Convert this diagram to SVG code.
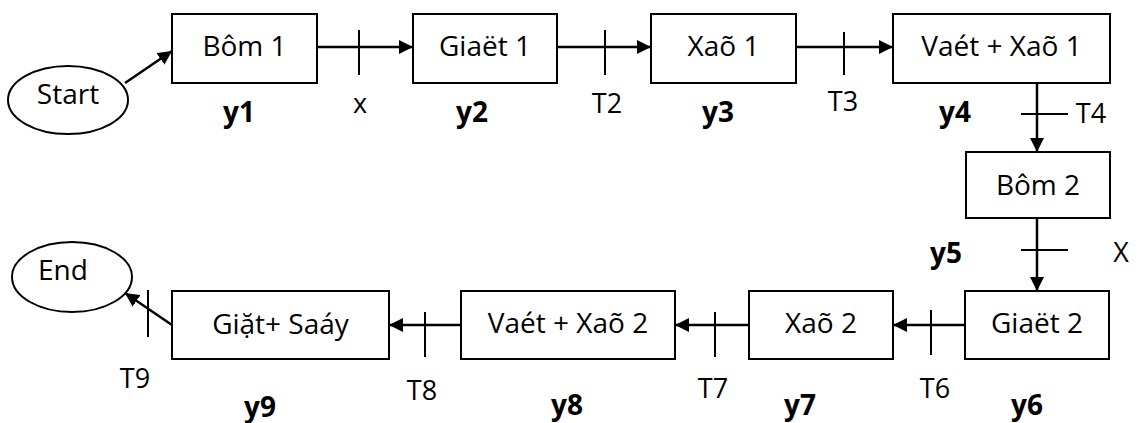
<svg xmlns="http://www.w3.org/2000/svg" width="1140" height="423" viewBox="0 0 1140 423">
  <defs>
    <marker id="arrow" markerUnits="userSpaceOnUse" markerWidth="16" markerHeight="14" refX="14" refY="7" orient="auto">
      <path d="M0,0 L14,7 L0,14 Z" fill="#000"/>
    </marker>
    <style>
      .box { fill: #fff; stroke: #000; stroke-width: 2; }
      .oval { fill: #fff; stroke: #000; stroke-width: 2; }
      .lbl { font-family: "Open Sans", "Liberation Sans", sans-serif; font-size: 28px; fill: #000; text-anchor: middle; }
      .step { font-family: "Open Sans", "Liberation Sans", sans-serif; font-size: 28px; font-weight: bold; fill: #000; text-anchor: middle; }
      .cond { font-family: "Open Sans", "Liberation Sans", sans-serif; font-size: 27px; fill: #000; text-anchor: middle; }
      .link { stroke: #000; stroke-width: 2.5; fill: none; marker-end: url(#arrow); }
      .tick { stroke: #000; stroke-width: 2; }
    </style>
  </defs>
  <rect width="1140" height="423" fill="#fff"/>

  <!-- transitions -->
  <g id="connectors">
    <line class="link" x1="125" y1="83" x2="172" y2="51"/>
    <line class="link" x1="317" y1="47" x2="413" y2="47"/>
    <line class="tick" x1="359" y1="30" x2="359" y2="75"/>
    <line class="link" x1="557" y1="47" x2="651" y2="47"/>
    <line class="tick" x1="605" y1="30" x2="605" y2="75"/>
    <line class="link" x1="796" y1="47" x2="893" y2="47"/>
    <line class="tick" x1="844" y1="32" x2="844" y2="75"/>
    <line class="link" x1="1037" y1="83" x2="1037" y2="152"/>
    <line class="tick" x1="1021" y1="114" x2="1068" y2="114"/>
    <line class="link" x1="1037" y1="218" x2="1037" y2="291"/>
    <line class="tick" x1="1021" y1="250" x2="1068" y2="250"/>
    <line class="link" x1="965" y1="325" x2="893" y2="325"/>
    <line class="tick" x1="931" y1="310" x2="931" y2="355"/>
    <line class="link" x1="749" y1="325" x2="675" y2="325"/>
    <line class="tick" x1="715" y1="312" x2="715" y2="357"/>
    <line class="link" x1="461" y1="325" x2="389" y2="325"/>
    <line class="tick" x1="425" y1="312" x2="425" y2="357"/>
    <line class="link" x1="172" y1="325" x2="125" y2="293"/>
    <line class="tick" x1="148" y1="290" x2="148" y2="337"/>
  </g>

  <!-- transition conditions -->
  <g id="conditions">
    <text class="cond" x="360" y="113">x</text>
    <text class="cond" x="607" y="113">T2</text>
    <text class="cond" x="843" y="111">T3</text>
    <text class="cond" x="1091" y="123">T4</text>
    <text class="cond" x="1121" y="262">X</text>
    <text class="cond" x="935" y="398">T6</text>
    <text class="cond" x="713" y="398">T7</text>
    <text class="cond" x="422" y="400">T8</text>
    <text class="cond" x="135" y="388">T9</text>
  </g>

  <!-- step outputs -->
  <g id="outputs">
    <text class="step" x="239" y="122">y1</text>
    <text class="step" x="472" y="122">y2</text>
    <text class="step" x="718" y="122">y3</text>
    <text class="step" x="955" y="122">y4</text>
    <text class="step" x="946" y="263">y5</text>
    <text class="step" x="1027" y="415">y6</text>
    <text class="step" x="800" y="415">y7</text>
    <text class="step" x="567" y="415">y8</text>
    <text class="step" x="260" y="417">y9</text>
  </g>

  <g id="start">
    <ellipse class="oval" cx="68" cy="100" rx="60" ry="34"/>
    <text class="lbl" x="68" y="104">Start</text>
  </g>
  <g id="bom1">
    <rect class="box" x="172" y="14" width="145" height="69"/>
    <text class="lbl" x="244.5" y="56">Bôm 1</text>
  </g>
  <g id="giat1">
    <rect class="box" x="413" y="14" width="144" height="69"/>
    <text class="lbl" x="485" y="56">Giaët 1</text>
  </g>
  <g id="xa1">
    <rect class="box" x="651" y="14" width="145" height="69"/>
    <text class="lbl" x="723.5" y="56">Xaõ 1</text>
  </g>
  <g id="vat1">
    <rect class="box" x="893" y="14" width="217" height="69"/>
    <text class="lbl" x="1001.5" y="56">Vaét + Xaõ 1</text>
  </g>
  <g id="bom2">
    <rect class="box" x="966" y="152" width="144" height="66"/>
    <text class="lbl" x="1038" y="195">Bôm 2</text>
  </g>
  <g id="giat2">
    <rect class="box" x="965" y="291" width="144" height="68"/>
    <text class="lbl" x="1037" y="333">Giaët 2</text>
  </g>
  <g id="xa2">
    <rect class="box" x="749" y="291" width="144" height="68"/>
    <text class="lbl" x="821" y="333">Xaõ 2</text>
  </g>
  <g id="vat2">
    <rect class="box" x="461" y="291" width="214" height="68"/>
    <text class="lbl" x="568" y="333">Vaét + Xaõ 2</text>
  </g>
  <g id="giatsay">
    <rect class="box" x="172" y="291" width="217" height="68"/>
    <text class="lbl" x="280.5" y="334">Giặt+ Saáy</text>
  </g>
  <g id="end">
    <ellipse class="oval" cx="72" cy="277" rx="60" ry="35"/>
    <text class="lbl" x="63" y="280">End</text>
  </g>
</svg>
